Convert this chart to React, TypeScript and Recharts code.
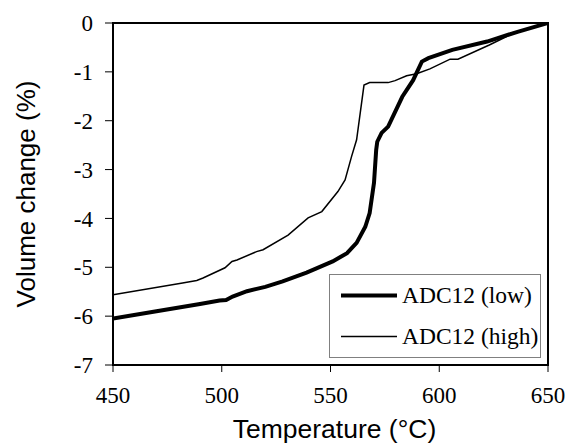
import { LineChart, Line, XAxis, YAxis, ReferenceArea, Legend } from 'recharts';

const lowTemp = [450, 470, 490, 499, 502, 505, 511.6, 520, 528, 539, 551, 557.6, 562, 566, 568, 570, 571, 571.5, 573.5, 576.5, 583, 588, 592, 595, 606, 622, 636, 650];
const lowVol = [-6.05, -5.9, -5.75, -5.68, -5.67, -5.6, -5.49, -5.4, -5.29, -5.11, -4.88, -4.71, -4.5, -4.17, -3.89, -3.27, -2.6, -2.43, -2.25, -2.12, -1.51, -1.17, -0.79, -0.72, -0.55, -0.38, -0.18, 0];

const highTemp = [450, 482, 488.5, 491.4, 501.5, 504.7, 507, 516, 519, 530.5, 539.7, 546, 553.4, 556.7, 559.7, 562, 565.4, 568, 576.5, 579.7, 585, 589.6, 595.7, 605, 608.6, 623, 634, 650];
const highVol = [-5.56, -5.32, -5.27, -5.22, -5.01, -4.88, -4.85, -4.68, -4.64, -4.34, -3.99, -3.86, -3.45, -3.21, -2.73, -2.39, -1.27, -1.22, -1.22, -1.18, -1.08, -1.04, -0.94, -0.74, -0.74, -0.45, -0.21, 0];

const xTicks = [450, 500, 550, 600, 650];
const yTicks = [-7, -6, -5, -4, -3, -2, -1, 0];

const seriesNames = ['ADC12 (low)', 'ADC12 (high)'];

const lowData = lowTemp.map((t, i) => ({ t, v: lowVol[i] }));
const highData = highTemp.map((t, i) => ({ t, v: highVol[i] }));

const serif = '"Liberation Serif", "Times New Roman", serif';
const sans = '"Liberation Sans", Arial, sans-serif';

const LegendBox = () => (
  <div
    style={{
      position: 'relative',
      width: 212,
      height: 84,
      boxSizing: 'border-box',
      border: '1px solid #808080',
      background: '#fff',
      fontFamily: serif,
      fontSize: 23.5,
      lineHeight: '23px',
      color: '#000',
    }}
  >
    {seriesNames.map((name, i) => (
      <div key={name} style={{ position: 'absolute', left: 10, top: i === 0 ? 9 : 50, height: 23, whiteSpace: 'nowrap' }}>
        <svg width={58} height={23} style={{ position: 'absolute', left: 0, top: 0 }}>
          <line x1={1} x2={57} y1={11.5} y2={11.5} stroke="#000" strokeWidth={i === 0 ? 4 : 1.5} />
        </svg>
        <span style={{ position: 'absolute', left: 62, top: 0 }}>{name}</span>
      </div>
    ))}
  </div>
);

export default function App() {
  return (
    <div style={{ position: 'absolute', left: 0, top: 0 }}>
      <LineChart width={570} height={443} margin={{ top: 23, right: 22, bottom: 0, left: 0 }}>
        <XAxis
          type="number"
          dataKey="t"
          domain={[450, 650]}
          ticks={xTicks}
          allowDataOverflow
          height={78}
          tickSize={7}
          tickMargin={15}
          axisLine={{ stroke: '#000', strokeWidth: 2 }}
          tickLine={{ stroke: '#000' }}
          tick={{ fill: '#000', fontSize: 23, fontFamily: serif }}
          label={{ value: 'Temperature (°C)', position: 'insideBottom', offset: 5, dx: 4, fill: '#000', fontSize: 26.5, fontFamily: sans }}
        />
        <YAxis
          type="number"
          dataKey="v"
          domain={[-7, 0]}
          ticks={yTicks}
          allowDataOverflow
          width={113}
          tickSize={8}
          tickMargin={12}
          axisLine={{ stroke: '#000', strokeWidth: 2 }}
          tickLine={{ stroke: '#000' }}
          tick={{ fill: '#000', fontSize: 23, fontFamily: serif }}
          label={{
            value: 'Volume change (%)',
            angle: -90,
            position: 'insideLeft',
            offset: 26,
            fill: '#000',
            fontSize: 26,
            fontFamily: sans,
            style: { textAnchor: 'middle' },
          }}
        />
        <ReferenceArea x1={450} x2={650} y1={-7} y2={0} fill="none" stroke="#000" strokeWidth={2} />
        <Line data={lowData} dataKey="v" name={seriesNames[0]} type="linear" stroke="#000" strokeWidth={4} dot={false} isAnimationActive={false} />
        <Line data={highData} dataKey="v" name={seriesNames[1]} type="linear" stroke="#000" strokeWidth={1.5} dot={false} isAnimationActive={false} />
        <Legend
          layout="horizontal"
          verticalAlign="middle"
          align="center"
          content={() => <LegendBox />}
          wrapperStyle={{ left: 329, top: 274, width: 212, height: 84 }}
        />
      </LineChart>
    </div>
  );
}
